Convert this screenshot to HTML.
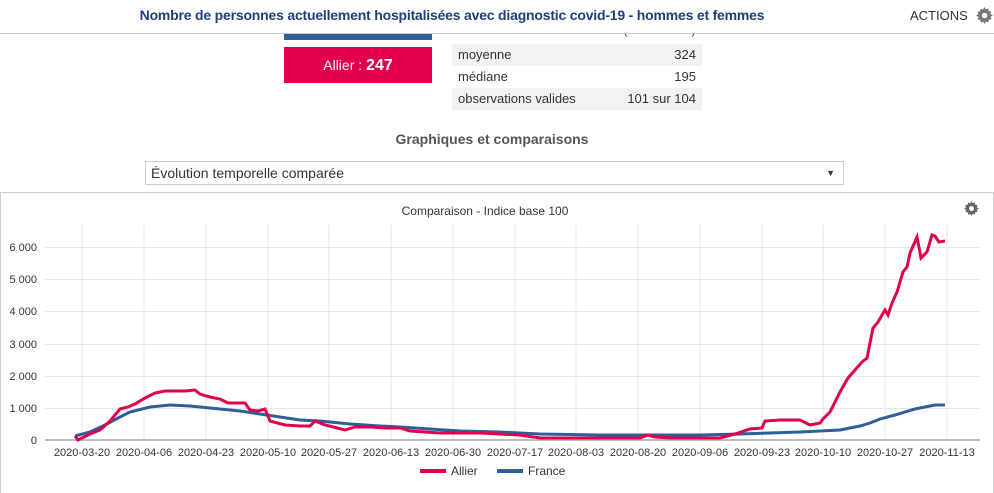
<!DOCTYPE html>
<html><head><meta charset="utf-8"><style>
body{margin:0;width:994px;height:490px;overflow:hidden;background:#fff;font-family:"Liberation Sans",sans-serif;position:relative}
.a{position:absolute}
</style></head><body>
<div class="a" style="left:0;top:7px;width:904px;text-align:center;font-size:14px;font-weight:bold;color:#1f3f7a;letter-spacing:-0.2px">Nombre de personnes actuellement hospitalisées avec diagnostic covid-19 - hommes et femmes</div>
<div class="a" style="left:910px;top:8px;font-size:13px;color:#333">ACTIONS</div>
<svg class="a" style="left:976px;top:7px" width="17" height="17" viewBox="0 0 16 16"><path fill="#777" d="M8 0l1.2 2.2 2.4-.8.3 2.5 2.5.3-.8 2.4L16 8l-2.2 1.2.8 2.4-2.5.3-.3 2.5-2.4-.8L8 16l-1.2-2.2-2.4.8-.3-2.5-2.5-.3.8-2.4L0 8l2.2-1.2-.8-2.4 2.5-.3.3-2.5 2.4.8z"/><circle cx="8" cy="8" r="2.6" fill="#fff"/></svg>
<div class="a" style="left:0;top:33px;width:994px;height:1px;background:#ccc"></div>
<div class="a" style="left:284px;top:34px;width:148px;height:6px;background:#2f5f9a"></div>
<div class="a" style="left:284px;top:47px;width:148px;height:36px;background:#e0004d;color:#fff;font-size:14px;text-align:center;line-height:36px">Allier : <b style="font-size:16px">247</b></div>
<div class="a" style="left:452px;top:34px;width:250px;height:10px;overflow:hidden;background:#fff;font-size:13px;color:#333"><div style="margin-top:-12px;padding:0 6px">maximum<span style="float:right">1 096 (Rhône - 69)</span></div></div>
<div class="a" style="left:452px;top:44px;width:238px;height:22px;background:#f2f2f2;font-size:13px;color:#333;line-height:22px;padding:0 6px">moyenne<span style="float:right">324</span></div>
<div class="a" style="left:452px;top:66px;width:238px;height:22px;font-size:13px;color:#333;line-height:22px;padding:0 6px">médiane<span style="float:right">195</span></div>
<div class="a" style="left:452px;top:88px;width:238px;height:22px;background:#f2f2f2;font-size:13px;color:#333;line-height:22px;padding:0 6px">observations valides<span style="float:right">101 sur 104</span></div>
<div class="a" style="left:0;top:131px;width:984px;text-align:center;font-size:14px;font-weight:bold;color:#555">Graphiques et comparaisons</div>
<div class="a" style="left:145px;top:161px;width:697px;height:22px;border:1px solid #ccc;font-size:14px;color:#333;line-height:22px;text-indent:5px">Évolution temporelle comparée<span style="position:absolute;right:8px;font-size:9px">▼</span></div>
<div class="a" style="left:0;top:192px;width:992px;height:300px;border:1px solid #ccc;border-bottom:none"></div>
<div class="a" style="left:0;top:204px;width:970px;text-align:center;font-size:12px;color:#333">Comparaison - Indice base 100</div>
<svg class="a" style="left:964px;top:201px" width="15" height="15" viewBox="0 0 16 16"><path fill="#666" d="M8 0l1.2 2.2 2.4-.8.3 2.5 2.5.3-.8 2.4L16 8l-2.2 1.2.8 2.4-2.5.3-.3 2.5-2.4-.8L8 16l-1.2-2.2-2.4.8-.3-2.5-2.5-.3.8-2.4L0 8l2.2-1.2-.8-2.4 2.5-.3.3-2.5 2.4.8z"/><circle cx="8" cy="8" r="2.6" fill="#fff"/></svg>
<svg class="a" style="left:0;top:0" width="994" height="490" font-family="Liberation Sans, sans-serif" font-size="11" fill="#333">
<g stroke="#e6e6e6" stroke-width="1">
<line x1="45" x2="980" y1="408.5" y2="408.5"/><line x1="45" x2="980" y1="376.5" y2="376.5"/><line x1="45" x2="980" y1="344.5" y2="344.5"/><line x1="45" x2="980" y1="311.5" y2="311.5"/><line x1="45" x2="980" y1="279.5" y2="279.5"/><line x1="45" x2="980" y1="247.5" y2="247.5"/>
<line x1="82" x2="82" y1="225" y2="440"/><line x1="144" x2="144" y1="225" y2="440"/><line x1="206" x2="206" y1="225" y2="440"/><line x1="268" x2="268" y1="225" y2="440"/><line x1="329" x2="329" y1="225" y2="440"/><line x1="391" x2="391" y1="225" y2="440"/><line x1="453" x2="453" y1="225" y2="440"/><line x1="515" x2="515" y1="225" y2="440"/><line x1="576" x2="576" y1="225" y2="440"/><line x1="638" x2="638" y1="225" y2="440"/><line x1="700" x2="700" y1="225" y2="440"/><line x1="762" x2="762" y1="225" y2="440"/><line x1="823" x2="823" y1="225" y2="440"/><line x1="885" x2="885" y1="225" y2="440"/><line x1="947" x2="947" y1="225" y2="440"/>
</g>
<line x1="45" x2="980" y1="440" y2="440" stroke="#bbb" stroke-width="2"/>
<g text-anchor="end"><text x="37" y="444">0</text><text x="37" y="412">1 000</text><text x="37" y="380">2 000</text><text x="37" y="348">3 000</text><text x="37" y="315">4 000</text><text x="37" y="283">5 000</text><text x="37" y="251">6 000</text></g>
<g text-anchor="middle"><text x="82" y="456">2020-03-20</text><text x="144" y="456">2020-04-06</text><text x="206" y="456">2020-04-23</text><text x="268" y="456">2020-05-10</text><text x="329" y="456">2020-05-27</text><text x="391" y="456">2020-06-13</text><text x="453" y="456">2020-06-30</text><text x="515" y="456">2020-07-17</text><text x="576" y="456">2020-08-03</text><text x="638" y="456">2020-08-20</text><text x="700" y="456">2020-09-06</text><text x="762" y="456">2020-09-23</text><text x="823" y="456">2020-10-10</text><text x="885" y="456">2020-10-27</text><text x="947" y="456">2020-11-13</text></g>
<polyline fill="none" stroke="#2f5f9a" stroke-width="3" points="75,436 90,432 105,425 118,418 130,412 150,407 170,405 190,406 210,408 240,411 260,414 280,417 300,420 320,421 350,424 380,426 400,427 430,429 460,431 500,432 540,434 600,435 700,435 740,434 800,432 840,430 860,426 870,423 880,419 895,415 915,409 935,405 945,405"/>
<polyline fill="none" stroke="#e0004d" stroke-width="3" points="75,436 78,440 84,437 90,434 100,430 110,421 120,409 128,407 135,404 145,398 155,393 165,391 175,391 185,391 195,390 200,394 210,397 220,399 228,403 245,403 250,410 258,411 265,409 270,421 285,425 300,426 310,426 315,421 325,425 345,430 355,427 370,427 385,428 400,428 410,431 440,433 480,433 520,435 540,438 600,438 640,438 648,435 655,437 670,438 720,438 735,434 750,429 762,428 765,421 780,420 800,420 810,425 820,423 823,419 830,412 840,392 848,378 862,362 867,358 873,328 878,322 885,310 888,315 892,303 897,292 903,272 907,267 910,253 917,237 921,258 927,252 932,235 935,236 939,242 945,241"/>
<line x1="420" x2="446" y1="471" y2="471" stroke="#e0004d" stroke-width="4"/>
<text x="451" y="475" font-size="12">Allier</text>
<line x1="497" x2="523" y1="471" y2="471" stroke="#2f5f9a" stroke-width="4"/>
<text x="528" y="475" font-size="12">France</text>
</svg>
</body></html>
